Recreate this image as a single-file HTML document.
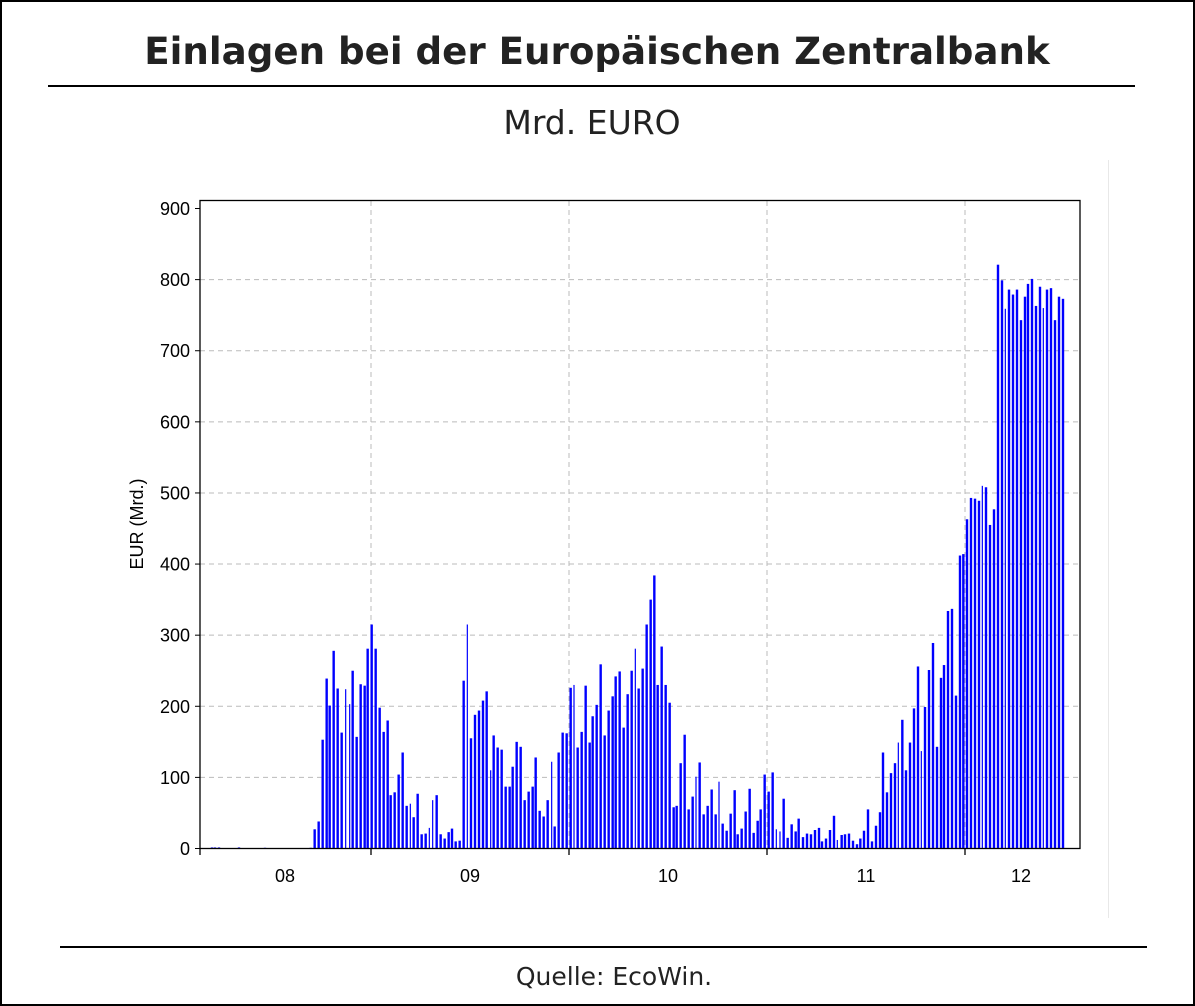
<!DOCTYPE html>
<html><head><meta charset="utf-8"><style>
html,body{margin:0;padding:0;background:#fff}
body{width:1195px;height:1006px;position:relative;overflow:hidden}
</style></head><body>
<svg id="s" width="1195" height="1006" xmlns="http://www.w3.org/2000/svg" style="position:absolute;left:0;top:0">
<rect x="1" y="1" width="1193" height="1004" fill="none" stroke="#000" stroke-width="2"/>
<text x="597" y="64" text-anchor="middle" font-family="DejaVu Sans, sans-serif" font-weight="bold" font-size="37.2" fill="#222">Einlagen bei der Europäischen Zentralbank</text>
<line x1="48" y1="86" x2="1135" y2="86" stroke="#000" stroke-width="2"/>
<text x="592" y="134" text-anchor="middle" font-family="DejaVu Sans, sans-serif" font-size="33" fill="#222">Mrd. EURO</text>
<line x1="1108.5" y1="160" x2="1108.5" y2="918" stroke="#e8e8e8" stroke-width="1"/>
<line x1="60" y1="947" x2="1147" y2="947" stroke="#000" stroke-width="2"/>
<text x="614" y="985" text-anchor="middle" font-family="DejaVu Sans, sans-serif" font-size="25" fill="#222">Quelle:  EcoWin.</text>
<g id="grid" stroke="#bbb" stroke-width="1" stroke-dasharray="5,4"></g>
<g id="bars" fill="#0000ff"></g>
<rect x="200" y="200.5" width="880" height="648" fill="none" stroke="#000" stroke-width="1.3"/>
<g id="axis" font-family="Liberation Sans, sans-serif" font-size="18" fill="#000"></g>
<text transform="translate(143,524) rotate(-90)" text-anchor="middle" font-family="Liberation Sans, sans-serif" font-size="18">EUR (Mrd.)</text>
</svg>
<script>
var NS="http://www.w3.org/2000/svg";
function el(p,t,a,txt){var e=document.createElementNS(NS,t);for(var k in a)e.setAttribute(k,a[k]);if(txt)e.textContent=txt;document.getElementById(p).appendChild(e);}
function Y(v){return 848.5-v*0.7111;}
for(var i=1;i<=9;i++){var y=Y(i*100);if(i<9)el("grid","line",{x1:200,x2:1080,y1:y,y2:y});}
[371,569,767,965].forEach(function(x){el("grid","line",{x1:x,x2:x,y1:201,y2:848});});
for(var i=0;i<=9;i++){var y=Y(i*100);el("axis","text",{x:190,y:y+6.5,"text-anchor":"end"},String(i*100));el("axis","line",{x1:195,x2:200,y1:y,y2:y,stroke:"#000"});}
[200,371,569,767,965].forEach(function(x){el("axis","line",{x1:x,x2:x,y1:848,y2:855,stroke:"#000","stroke-width":1.3});});
[["08",285],["09",470],["10",668],["11",866],["12",1021]].forEach(function(a){el("axis","text",{x:a[1],y:882,"text-anchor":"middle"},a[0]);});
var d=[[212,1.5],[215,1.5],[219,1.5],[239,1.5],[265,1]];
var z1=[[32,1],[44,27],[56,38],[68,153],[80,239],[89,201],[101,278],[113,225],[125,163],[137,224,1],[149,203,1],[158,250],[170,157],[182,231],[194,229],[203,281],[215,315],[227,281],[239,198],[251,164],[263,180],[272,75],[284,79],[296,104],[308,135],[320,60],[331,63,1],[341,44],[353,77],[365,20],[377,21],[388,29,1],[398,68,1],[410,75],[422,20],[434,14],[446,23],[456,28],[467,10],[479,11],[491,236],[502,315,1],[513,155],[525,188],[537,194],[549,208],[560,221],[572,110,1],[581,159],[593,142],[605,139],[617,87],[629,87],[638,115],[650,150],[662,143],[674,68],[686,80],[698,87],[707,128],[719,53],[731,45],[743,68],[755,122,1],[764,31],[776,135]];
z1.forEach(function(b){d.push([300+b[0]/3,b[1],b[2]]);});
var z2=[[38,163],[50,162],[62,226],[72,230,1],[83,142],[95,164],[107,229],[119,149],[128,186],[140,202],[152,259],[164,159],[176,194],[188,214],[197,242],[209,249],[221,170],[233,217],[245,250],[256,281,1],[266,225],[278,253],[290,315],[302,350],[313,384],[323,230],[335,284],[347,230],[359,205],[371,58],[380,60],[392,120],[404,160],[416,55],[428,73],[438,101,1],[449,121],[461,48],[473,60],[485,83],[497,48],[507,94,1],[518,35],[530,25],[542,49],[554,82],[563,20],[575,28],[587,52],[599,84],[611,22],[623,39],[632,55],[644,104],[656,80],[668,107],[679,27,1],[690,24,1],[701,70],[713,15],[725,34],[737,24],[746,42]];
z2.forEach(function(b){d.push([550+b[0]/3,b[1],b[2]]);});
var z3=[[9,16],[21,21],[33,20],[45,26],[57,29],[66,10],[78,14],[90,26],[102,46],[112,12,1],[125,19],[135,20],[147,21],[159,11],[171,6],[181,14],[192,25],[204,55],[216,10],[228,32],[240,51],[249,135],[261,79],[273,106],[285,120],[295,149,1],[307,181],[318,110],[330,149],[342,197],[354,256],[364,137,1],[375,199],[387,251],[399,289],[411,143],[423,240],[432,258],[444,334],[456,337],[468,215],[480,412],[490,414],[501,463],[513,493],[525,492],[537,489],[547,510,1],[558,508],[570,455],[582,477],[594,821],[606,799],[616,759,1],[627,786],[639,779],[651,786],[663,743],[675,776],[684,794],[696,801],[708,763],[720,790],[730,760,1],[741,786],[753,788],[765,743],[777,776],[789,773]];
z3.forEach(function(b){d.push([800+b[0]/3,b[1],b[2]]);});
d.forEach(function(b){var w=b[2]?1.2:2.4;var y=Y(b[1]);el("bars","rect",{x:(b[0]-w/2).toFixed(2),y:y.toFixed(2),width:w,height:(848.5-y).toFixed(2)});});
</script>
</body></html>
